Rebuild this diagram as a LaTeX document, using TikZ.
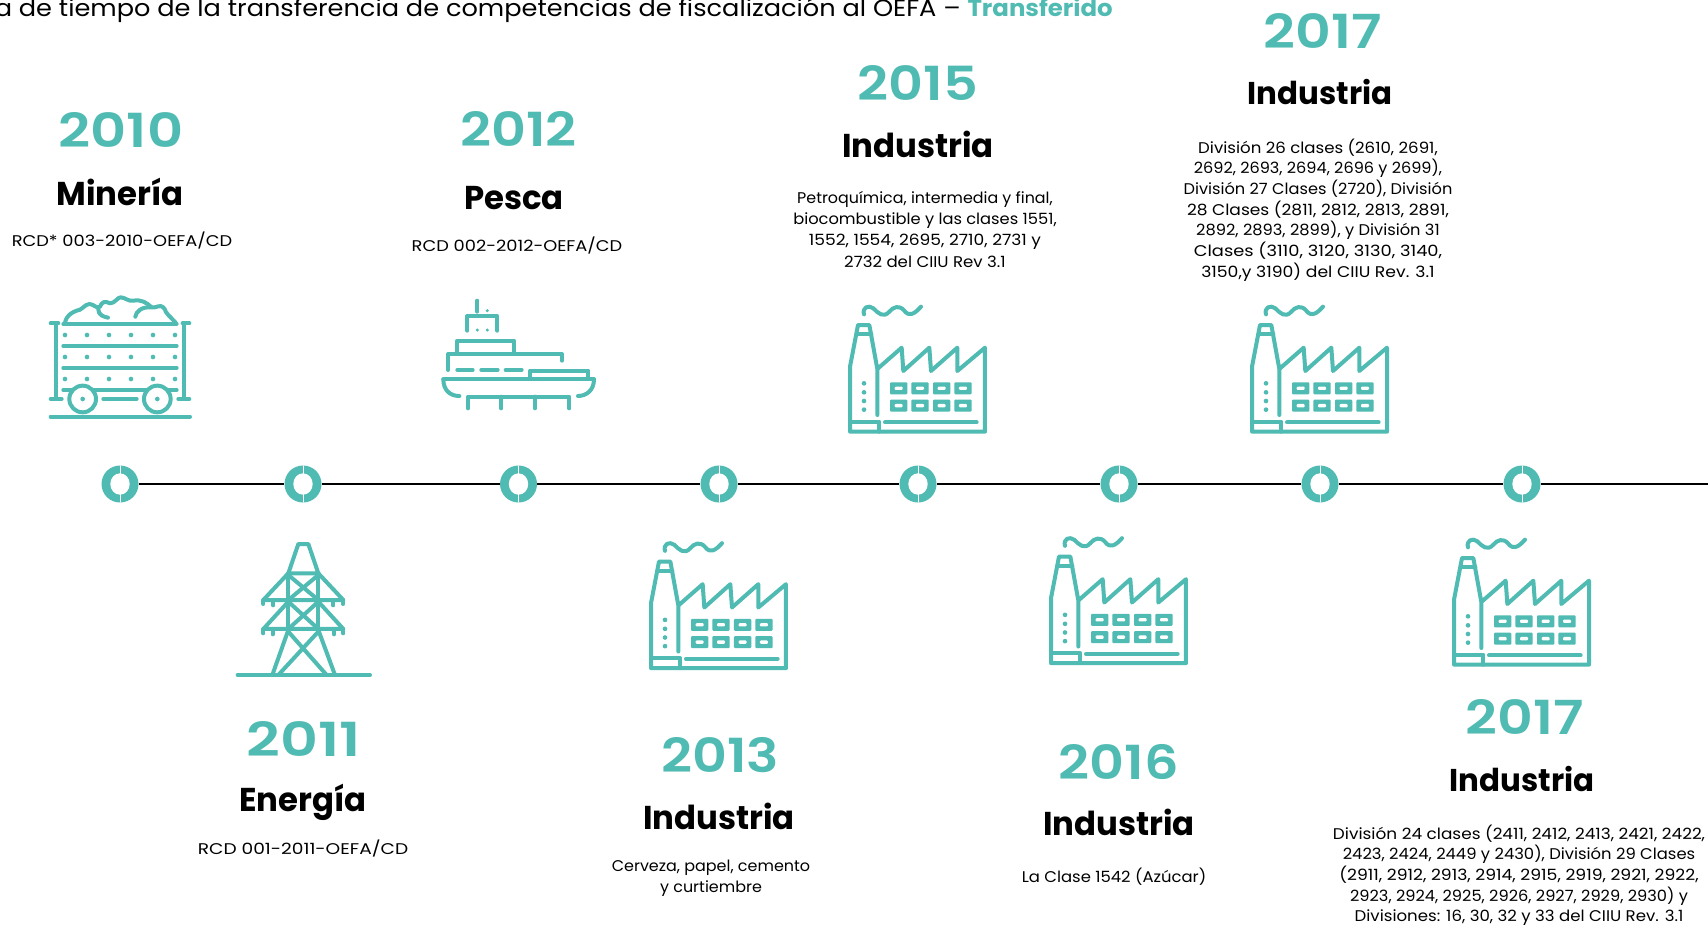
\documentclass[tikz,border=0pt]{standalone}
\usepackage{fontspec}
\setmainfont{Poppins}
\newfontfamily\secf[FakeStretch=0.98]{Poppins}
\newcommand{\sbs}[1]{\fontspec[FakeStretch=#1]{Poppins}}
\newcommand{\ybs}[1]{\fontspec[FakeStretch=#1]{Poppins SemiBold}}
\newcommand{\lnn}[2]{{\sbs{#1}#2}}
\usetikzlibrary{calc}
\definecolor{tealc}{HTML}{4FBBB2}
\tikzset{
  icon/.style={draw=tealc,line width=4pt,line cap=round,line join=round},
  ringdot/.style={circle,fill=tealc,minimum size=37pt,inner sep=0pt,
    path picture={
      \fill[white] (path picture bounding box.center) ellipse [x radius=9.7pt,y radius=10.7pt];
      \draw[white,line width=1pt] ($(path picture bounding box.center)+(0,9pt)$) -- ($(path picture bounding box.center)+(0,20pt)$);
      \draw[white,line width=1pt] ($(path picture bounding box.center)+(0,-9pt)$) -- ($(path picture bounding box.center)+(0,-20pt)$);
    }},
  yeartext/.style={anchor=base,text=tealc,inner sep=0pt,font=\fontsize{47}{50}\ybs{#1}\selectfont},
  sector/.style={anchor=base,text=black,inner sep=0pt,font=\fontsize{33}{36}\secf\bfseries\selectfont},
  sectorsmall/.style={anchor=base,text=black,inner sep=0pt,font=\fontsize{31.5}{36}\secf\bfseries\selectfont},
  bodytext/.style={anchor=base,text=black,align=center,inner sep=0pt,font=\fontsize{15.5}{20.7}\sbs{#1}\selectfont},
  axisline/.style={draw=black,line width=2pt},
}
\newcommand{\factoryicon}[2]{%
\begin{scope}[shift={(840+#1,295+#2)},x=.3333pt,y=-.3333pt]
  \draw[icon] (112,360) -- (112,222) -- (185,158) -- (190,228) -- (268,158) -- (273,228) -- (352,158) -- (352,228) -- (435,158) -- (435,410) -- (30,410) -- (30,215) -- (54,90) -- (88,90) -- (112,222);
  \draw[icon] (50,118) -- (94,118);
  \draw[icon] (72,58) .. controls (66,38) and (85,28) .. (100,40) .. controls (115,55) and (130,70) .. (148,50) .. controls (160,35) and (178,30) .. (192,46) .. controls (208,68) and (225,55) .. (243,35);
  \foreach \yy in {265,292,318,344} \fill[tealc] (72,\yy) circle [radius=7];
  \foreach \xx in {150,214,279,343} \foreach \yy in {262,314} {
    \fill[tealc,rounded corners=1pt] (\xx,\yy) rectangle ++(52,36);
    \fill[white,rounded corners=1pt] (\xx+14,\yy+13) rectangle ++(24,10);
  }
  \draw[icon] (135,382) -- (410,382);
  \draw[icon] (30,380) -- (118,380) -- (118,410);
\end{scope}}
\begin{document}
\begin{tikzpicture}[x=1pt,y=-1pt]
\useasboundingbox (0,0) rectangle (1708,924);
\fill[white] (0,0) rectangle (1708,924);
% title
\node[anchor=base east,inner sep=0pt,font=\fontsize{23.5}{26}\selectfont] (title) at (1113,16) {{\sbs{1.09}a de tiempo de la transferencia de competencias de fiscalización al OEFA – }\textcolor{tealc}{\fontspec[FakeStretch=1.04]{Poppins}\bfseries Transferido}};
% axis
\node[ringdot] (d1) at (120,484) {};
\node[ringdot] (d2) at (303,484) {};
\node[ringdot] (d3) at (518.5,484) {};
\node[ringdot] (d4) at (719,484) {};
\node[ringdot] (d5) at (918,484) {};
\node[ringdot] (d6) at (1119,484) {};
\node[ringdot] (d7) at (1320,484) {};
\node[ringdot] (d8) at (1522,484) {};
\coordinate (axisend) at (1708,484);
\foreach \a/\b in {d1/d2,d2/d3,d3/d4,d4/d5,d5/d6,d6/d7,d7/d8,d8/axisend} \draw[axisline] (\a) -- (\b);
% cart
\begin{scope}[shift={(30,280)},x=.3333pt,y=-.3333pt]
  \draw[icon] (62,130) -- (85,130) (78,130) -- (78,357) (62,357) -- (95,357);
  \draw[icon] (478,130) -- (458,130) (463,130) -- (463,357) (445,357) -- (478,357);
  \draw[icon] (100,132) -- (440,132) (100,198) -- (440,198) (100,264) -- (440,264) (100,330) -- (440,330);
  \foreach \yy in {165,231,297} \foreach \xx in {105,171,237,303,369,435} \fill[tealc] (\xx,\yy) circle [radius=7];
  \foreach \xx in {158,382} {
    \draw[icon,fill=white] (\xx,357) circle [radius=40];
    \fill[tealc] (\xx,357) circle [radius=7];
  }
  \draw[icon] (220,357) -- (320,357);
  \draw[icon] (62,410) -- (480,410);
  \draw[icon] (105,128) .. controls (110,105) and (125,98) .. (140,92) .. controls (155,92) and (165,72) .. (178,72) .. controls (192,72) and (200,88) .. (210,80) .. controls (216,65) and (225,62) .. (240,70) .. controls (255,70) and (262,52) .. (272,52) .. controls (285,52) and (295,65) .. (310,62) .. controls (335,58) and (350,68) .. (365,82) .. controls (378,85) and (390,72) .. (400,82) .. controls (410,92) and (405,100) .. (415,105) -- (437,128);
  \draw[icon] (205,88) .. controls (205,105) and (220,110) .. (234,113);
  \draw[icon] (316,110) .. controls (318,95) and (335,80) .. (362,82);
\end{scope}
% ship
\begin{scope}[shift={(430,290)},x=.3333pt,y=-.3333pt]
  \draw[icon] (142,32) -- (142,65);
  \fill[tealc] (172,62) circle [radius=5];
  \draw[icon] (112,122) -- (112,78) -- (202,78) -- (202,122);
  \fill[tealc] (142,120) circle [radius=5] (172,120) circle [radius=5];
  \draw[icon] (82,190) -- (82,152) -- (252,152) -- (252,190);
  \draw[icon] (54,240) -- (54,192) -- (396,192) -- (396,212);
  \draw[icon] (82,240) -- (128,240) (154,240) -- (203,240) (227,240) -- (275,240);
  \draw[icon] (300,265) -- (300,242) -- (475,242) -- (475,265);
  \draw[icon] (40,268) -- (492,268);
  \draw[icon] (40,268) .. controls (40,300) and (60,318) .. (88,318);
  \draw[icon] (492,268) .. controls (492,300) and (470,318) .. (444,318);
  \draw[icon] (114,355) -- (114,320) -- (418,320) -- (418,355) (214,320) -- (214,355) (315,320) -- (315,355);
\end{scope}
% tower
\begin{scope}[shift={(225,530)},x=.3333pt,y=-.3333pt]
  \draw[icon] (38,435) -- (435,435);
  \draw[icon] (190,130) -- (220,42) -- (250,42) -- (280,130) -- cycle;
  \draw[icon] (190,130) -- (115,210) -- (355,210) -- (280,130);
  \draw[icon] (115,210) -- (115,222) (145,213) -- (145,226) (325,213) -- (325,226) (355,210) -- (355,222);
  \draw[icon] (190,215) -- (115,297) -- (355,297) -- (280,215);
  \draw[icon] (115,297) -- (115,310) (143,300) -- (143,313) (327,300) -- (327,313) (355,297) -- (355,310);
  \draw[icon] (190,130) -- (190,300) (280,130) -- (280,300);
  \draw[icon] (190,135) -- (280,210) (280,135) -- (190,210);
  \draw[icon] (190,215) -- (280,297) (280,215) -- (190,297);
  \draw[icon] (190,300) -- (142,435) (280,300) -- (330,435);
  \draw[icon] (190,305) -- (305,435) (280,305) -- (160,435);
\end{scope}
% factories
\factoryicon{0}{0}
\factoryicon{402}{0}
\factoryicon{-199}{236.5}
\factoryicon{201}{231.5}
\factoryicon{604}{233}
% texts
\node[yeartext=1.19] (y10) at (121,147) {2010};
\node[sector] (s10) at (120,205) {Minería};
\node[bodytext=1.15] (b10) at (122,246) {RCD* 003-2010-OEFA/CD};
\node[yeartext=1.15] (y12) at (518.5,146) {2012};
\node[sector] (s12) at (514,209) {Pesca};
\node[bodytext=1.15] (b12) at (517,251) {RCD 002-2012-OEFA/CD};
\node[yeartext=1.15] (y15) at (918,100) {2015};
\node[sector] (s15) at (918,157) {Industria};
\node[bodytext=1.06] (b15) at (925,267) {\lnn{1.025}{Petroquímica, intermedia y final,}\\[.5pt]\lnn{1.05}{biocombustible y las clases 1551,}\\[.5pt]\lnn{1.10}{1552, 1554, 2695, 2710, 2731 y}\\[.5pt]\lnn{1.07}{2732 del CIIU Rev 3.1}};
\node[yeartext=1.18] (y17a) at (1323,48) {2017};
\node[sectorsmall] (s17a) at (1320,104) {Industria};
\node[bodytext=1.12] (b17a) at (1318,277.2) {\lnn{1.07}{División 26 clases (2610, 2691,}\\\lnn{1.04}{2692, 2693, 2694, 2696 y 2699),}\\\lnn{1.045}{División 27 Clases (2720), División}\\\lnn{1.10}{28 Clases (2811, 2812, 2813, 2891,}\\\lnn{1.05}{2892, 2893, 2899), y División 31}\\\lnn{1.15}{Clases (3110, 3120, 3130, 3140,}\\\lnn{1.11}{3150,y 3190) del CIIU Rev. 3.1}};
\node[yeartext=1.25] (y11) at (304,756) {2011};
\node[sector] (s11) at (303,811.5) {Energía};
\node[bodytext=1.2] (b11) at (303,854) {RCD 001-2011-OEFA/CD};
\node[yeartext=1.15] (y13) at (720,772) {2013};
\node[sector] (s13) at (719,829) {Industria};
\node[bodytext=1.03] (b13) at (711,892) {Cerveza, papel, cemento\\y curtiembre};
\node[yeartext=1.15] (y16) at (1119,779) {2016};
\node[sector] (s16) at (1119,835) {Industria};
\node[bodytext=1.06] (b16) at (1114,882) {La Clase 1542 (Azúcar)};
\node[yeartext=1.18] (y17b) at (1525,734) {2017};
\node[sectorsmall] (s17b) at (1522,791) {Industria};
\node[bodytext=1.1] (b17b) at (1519,921.8) {\lnn{1.09}{División 24 clases (2411, 2412, 2413, 2421, 2422,}\\\lnn{1.057}{2423, 2424, 2449 y 2430), División 29 Clases}\\\lnn{1.11}{(2911, 2912, 2913, 2914, 2915, 2919, 2921, 2922,}\\\lnn{1.046}{2923, 2924, 2925, 2926, 2927, 2929, 2930) y}\\\lnn{1.07}{Divisiones: 16, 30, 32 y 33 del CIIU Rev. 3.1}};
\end{tikzpicture}
\end{document}
